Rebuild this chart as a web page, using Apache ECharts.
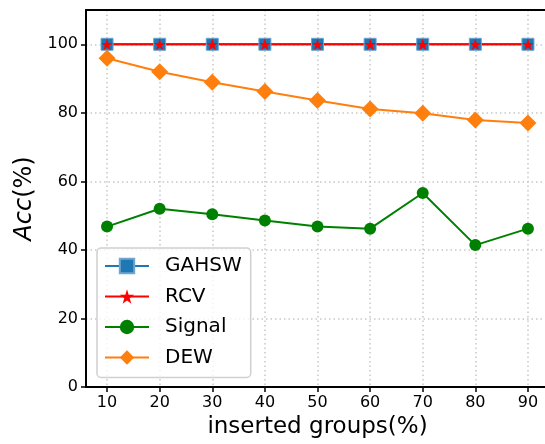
<!DOCTYPE html>
<html>
<head>
<meta charset="utf-8">
<script src="https://cdn.jsdelivr.net/npm/echarts@6/dist/echarts.min.js"></script>
<style>
  html, body { margin: 0; padding: 0; background: #fff; }
  #chart { width: 545px; height: 444px; }
</style>
</head>
<body>
<div id="chart"></div>
<script>
var groups = [10, 20, 30, 40, 50, 60, 70, 80, 90];
var gahsw = [100, 100, 100, 100, 100, 100, 100, 100, 100];
var rcv = [100, 100, 100, 100, 100, 100, 100, 100, 100];
var signal = [46.8, 52.0, 50.4, 48.6, 46.8, 46.2, 56.6, 41.4, 46.2];
var dew = [95.9, 92.0, 88.9, 86.2, 83.6, 81.1, 79.9, 77.9, 77.0];
var yTicks = [0, 20, 40, 60, 80, 100];

function pairs(vals) {
    var out = [];
    for (var i = 0; i < groups.length; i++) {
        out.push([groups[i], vals[i]]);
    }
    return out;
}

var font = 'DejaVu Sans';
var gridLine = { show: true, lineStyle: { color: '#c8c8c8', type: [1.5, 3], width: 1.5 } };

var myChart = echarts.init(document.getElementById('chart'));

var option = {
    animation: false,
    textStyle: { fontFamily: font },
    grid: {
        left: 86, top: 10, width: 463, height: 377,
        outerBoundsMode: 'none'
    },
    legend: {
        orient: 'vertical',
        left: 97, top: 248,
        padding: [8, 9, 10, 7],
        itemWidth: 44,
        itemHeight: 18,
        itemGap: 10.5,
        backgroundColor: 'rgba(255,255,255,0.8)',
        borderColor: '#d0d0d0',
        borderWidth: 1.5,
        borderRadius: 4,
        textStyle: { fontSize: 20, color: '#000', fontFamily: font, lineHeight: 20, padding: [0, 0, 0, 11] },
        data: ['GAHSW', 'RCV', 'Signal', 'DEW']
    },
    xAxis: [{
        type: 'value',
        min: 6, max: 94,
        name: 'inserted groups(%)',
        nameLocation: 'middle',
        nameGap: 29,
        nameTextStyle: { fontSize: 23, color: '#000', fontFamily: font },
        axisLine: { show: true, lineStyle: { color: '#000', width: 2 } },
        axisTick: { show: true, length: 5, lineStyle: { color: '#000', width: 1.5 }, customValues: groups },
        axisLabel: { fontSize: 16, color: '#000', margin: 8, customValues: groups },
        splitLine: gridLine
    }, {
        // top spine only
        type: 'value',
        position: 'top',
        min: 6, max: 94,
        axisLine: { show: true, onZero: false, lineStyle: { color: '#000', width: 2 } },
        axisTick: { show: false },
        axisLabel: { show: false },
        splitLine: { show: false }
    }],
    yAxis: {
        type: 'value',
        min: 0, max: 110,
        name: '{i|Acc}(%)',
        nameLocation: 'middle',
        nameGap: 47,
        nameTextStyle: {
            fontSize: 24, color: '#000', fontFamily: font,
            rich: { i: { fontSize: 24, fontStyle: 'italic', color: '#000', fontFamily: font } }
        },
        axisLine: { show: true, lineStyle: { color: '#000', width: 2 } },
        axisTick: { show: true, length: 5, lineStyle: { color: '#000', width: 1.5 }, customValues: yTicks },
        axisLabel: { fontSize: 16, color: '#000', margin: 8, customValues: yTicks },
        splitLine: gridLine
    },
    series: [
        {
            name: 'GAHSW', type: 'line', data: pairs(gahsw),
            symbol: 'rect', symbolSize: 12,
            lineStyle: { color: '#1f77b4', width: 2 },
            itemStyle: { color: '#1f77b4', borderColor: '#6fa6d0', borderWidth: 1 }
        },
        {
            name: 'RCV', type: 'line', data: pairs(rcv),
            symbol: 'path://M50,0 L61,35 L98,35 L68,57 L79,91 L50,70 L21,91 L32,57 L2,35 L39,35 Z',
            symbolSize: 12,
            lineStyle: { color: '#ff0000', width: 2 },
            itemStyle: { color: '#ff0000' }
        },
        {
            name: 'Signal', type: 'line', data: pairs(signal),
            symbol: 'circle', symbolSize: 12,
            lineStyle: { color: '#008000', width: 2 },
            itemStyle: { color: '#008000' }
        },
        {
            name: 'DEW', type: 'line', data: pairs(dew),
            symbol: 'diamond', symbolSize: 17,
            lineStyle: { color: '#ff7f0e', width: 2 },
            itemStyle: { color: '#ff7f0e' }
        }
    ]
};

myChart.setOption(option);
</script>
</body>
</html>
